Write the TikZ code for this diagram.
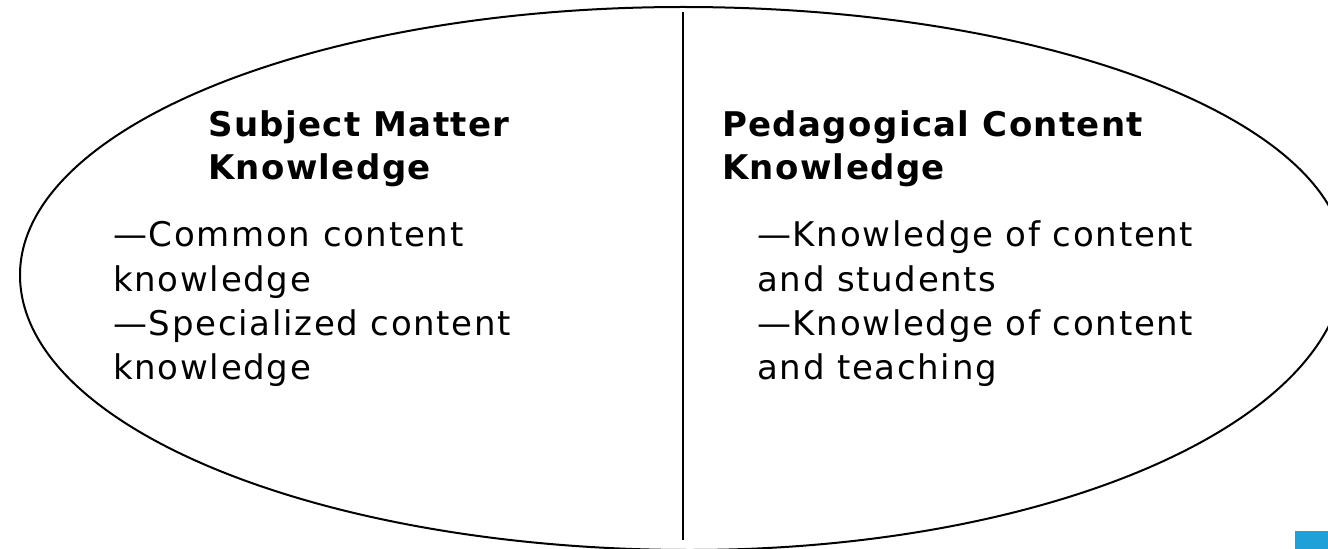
\documentclass[tikz,border=0pt]{standalone}
\usepackage{fontspec}
\setmainfont{DejaVu Sans}[LetterSpace=5]
\newfontfamily\headfont{DejaVu Sans}[LetterSpace=4]
\definecolor{cornerblue}{HTML}{1FA0D9}
\tikzset{
  head/.style={anchor=base west, inner sep=0pt, font=\headfont\bfseries\fontsize{34bp}{43bp}\selectfont},
  item/.style={anchor=base west, inner sep=0pt, font=\fontsize{34bp}{44bp}\selectfont},
  outline/.style={line width=2bp},
}
\begin{document}
\begin{tikzpicture}[x=1bp,y=-1bp]
\useasboundingbox (0,0) rectangle (1328,549);
\begin{scope}
\clip (0,0) rectangle (1328,549);
\draw[outline] (683,7)
  .. controls (1048.6,7) and (1345,121.2) .. (1345,262)
  .. controls (1345,421.1) and (1051.8,550) .. (690,550)
  .. controls (320,550) and (20,426.9) .. (20,275)
  .. controls (20,127) and (316.8,7) .. (683,7) -- cycle;
\end{scope}
\coordinate (divtop) at (683,12);
\coordinate (divbot) at (683,540);
\draw[line width=2.5bp] (divtop) -- (divbot);
\fill[cornerblue] (1295,531) rectangle (1328,549);
% left
\node[head] (smk1) at (208,137) {Subject Matter};
\node[head] (smk2) at (208,180) {Knowledge};
\node[item] (l1) at (113,247) {—Common content};
\node[item] (l2) at (113,291) {knowledge};
\node[item] (l3) at (113,335) {—Specialized content};
\node[item] (l4) at (113,379) {knowledge};
% right
\node[head] (pck1) at (722,137) {Pedagogical Content};
\node[head] (pck2) at (722,180) {Knowledge};
\node[item] (r1) at (757,247) {—Knowledge of content};
\node[item] (r2) at (757,291) {and students};
\node[item] (r3) at (757,335) {—Knowledge of content};
\node[item] (r4) at (757,379) {and teaching};
\end{tikzpicture}
\end{document}
